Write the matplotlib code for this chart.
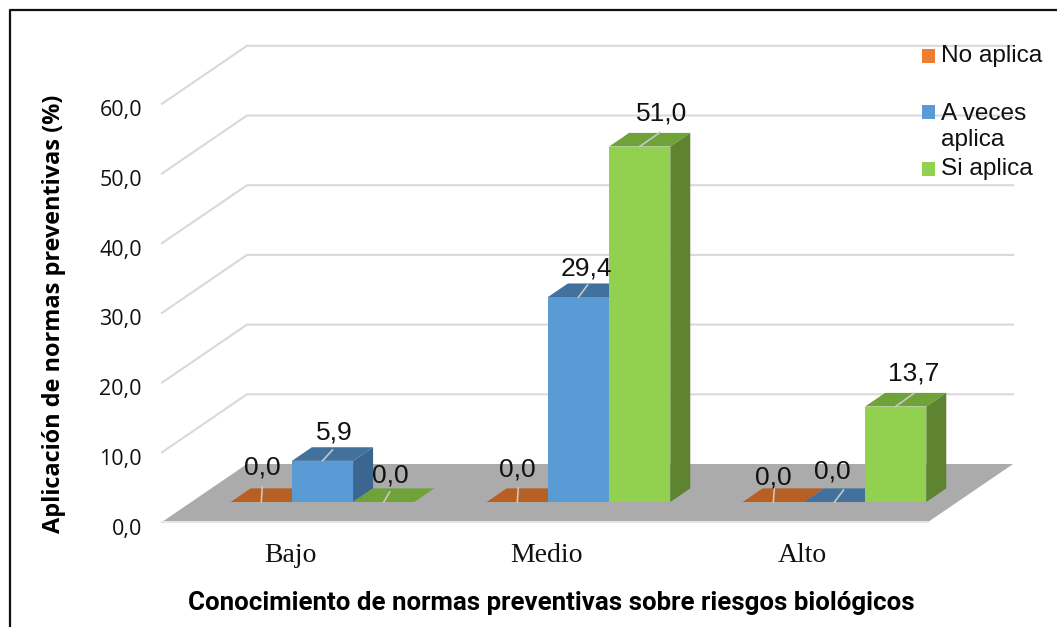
import matplotlib
matplotlib.use("Agg")
import matplotlib.pyplot as plt
from matplotlib.patches import Polygon, Rectangle

categories = ["Bajo", "Medio", "Alto"]
series_names = ["No aplica", "A veces\naplica", "Si aplica"]
no_aplica = [0.0, 0.0, 0.0]
a_veces = [5.9, 29.4, 0.0]
si_aplica = [0.0, 51.0, 13.7]
y_ticks = [0, 10, 20, 30, 40, 50, 60]

# front, top, side
colors_no = ["#ed7d31", "#b85f23", "#a85520"]
colors_av = ["#5b9bd5", "#41719c", "#3c6690"]
colors_si = ["#92d050", "#6fa33a", "#5f8431"]

W, H = 1057, 627
PX_X = 256.0     # pixels per category
PX_Y = 6.97      # pixels per value unit
X0, Y0 = 322.5, 502.0   # pixel of category 0, value 0 on the bar plane

DX = 85 / PX_X   # whole floor depth in data units
DY = 58 / PX_Y
FLOOR_FRONT = -0.345
FLOOR_BACK = 0.655
BAR_D = 0.235
BAR_W = 61.2 / PX_X

fig = plt.figure(figsize=(W / 100, H / 100), dpi=100)
ax = fig.add_axes([0, 0, 1, 1])
ax.set_xlim(-X0 / PX_X, (W - X0) / PX_X)
ax.set_ylim((Y0 - H) / PX_Y, Y0 / PX_Y)
ax.axis("off")


def pr(x, v, d=0.0):
    return (x + d * DX, v + d * DY)


def px(dx, dy):
    return (dx / PX_X, -dy / PX_Y)


x_left, x_right = -0.5125, 2.48  # ends of the floor on the bar plane

# floor
ax.add_patch(Polygon([pr(x_left, 0, FLOOR_FRONT), pr(x_right, 0, FLOOR_FRONT),
                      pr(x_right, 0, FLOOR_BACK), pr(x_left, 0, FLOOR_BACK)],
                     fc="#ababab", ec="none", zorder=1))
ax.plot(*zip(pr(x_left, 0, FLOOR_FRONT), pr(x_right, 0, FLOOR_FRONT)), color="#e6e6e6", lw=1.5, zorder=1.5)

# walls grid
for t in y_ticks[1:]:
    ax.plot(*zip(pr(x_left, t, FLOOR_FRONT), pr(x_left, t, FLOOR_BACK), pr(x_right, t, FLOOR_BACK)),
            color="#d9d9d9", lw=1.5, zorder=0.5)
for t in y_ticks:
    p = pr(x_left, t, FLOOR_FRONT)
    ax.annotate(f"{t:.1f}".replace(".", ","), p, xytext=(-20, -7), textcoords="offset pixels",
                ha="right", va="center", fontsize=15.5, family="Open Sans", color="#111111", zorder=6)


def bar3d(xc, val, cols):
    xa, xb = xc - BAR_W / 2, xc + BAR_W / 2
    ax.add_patch(Polygon([pr(xa, val), pr(xb, val), pr(xb, val, BAR_D), pr(xa, val, BAR_D)],
                         fc=cols[1], ec="none", zorder=3))
    if val > 0:
        ax.add_patch(Polygon([pr(xb, 0), pr(xb, val), pr(xb, val, BAR_D), pr(xb, 0, BAR_D)],
                             fc=cols[2], ec="none", zorder=3))
        ax.add_patch(Rectangle((xa, 0), BAR_W, val, fc=cols[0], ec="none", zorder=3))


all_series = [(no_aplica, colors_no), (a_veces, colors_av), (si_aplica, colors_si)]
for i in range(len(categories)):
    for j, (vals, cols) in enumerate(all_series):
        bar3d(i + (j - 1) * BAR_W, vals[i], cols)

# data labels: pixel offsets of text and leader from the front top centre of each bar
label_off = [[(1, 34), (12, 28), (7, 27)],
             [(0, 33), (8, 29), (22, 33)],
             [(0, 25), (-2, 30), (18, 33)]]
leader_off = [[(1, -15), (10, -11), (6, -10)],
              [(1, -14), (9, -12), (20, -14)],
              [(1, -13), (9, -12), (18, -13)]]
for i in range(len(categories)):
    for j, (vals, cols) in enumerate(all_series):
        xc = i + (j - 1) * BAR_W
        v = vals[i]
        lx, ly = px(*leader_off[i][j])
        ax.plot([xc, xc + lx], [v, v + ly], color="#c8c8c8", lw=1.2, zorder=4)
        ax.annotate(f"{v:.1f}".replace(".", ","), (xc, v), xytext=label_off[i][j],
                    textcoords="offset pixels", ha="center", va="center",
                    fontsize=19, family="Liberation Sans", color="#111111", zorder=5)

# category labels
for i, c in enumerate(categories):
    ax.annotate(c, (i, 0), xytext=(-32, -54), textcoords="offset pixels",
                ha="center", va="center", fontsize=20, family="Liberation Serif", color="#111111")

# legend
tr = ax.transAxes
leg_y = [56, 112, 169]
leg_text_y = [56, 127, 169]
for name, yy, ty, cols in zip(series_names, leg_y, leg_text_y, [colors_no, colors_av, colors_si]):
    ax.add_patch(Rectangle((922 / W, 1 - (yy + 6.5) / H), 13 / W, 13 / H, transform=tr,
                           fc=cols[0], ec="none", zorder=6))
    ax.text(941 / W, 1 - ty / H, name, transform=tr, ha="left", va="center", fontsize=17.6,
            family="Liberation Sans", color="#111111", linespacing=1.2, zorder=6)

# axis titles
ax.text(54 / W, 1 - 314 / H, "Aplicación de normas preventivas (%)", transform=tr, rotation=90,
        ha="center", va="center", fontsize=16.9, fontweight="bold", family="Open Sans", color="black")
ax.text(551 / W, 1 - 603 / H, "Conocimiento de normas preventivas sobre riesgos biológicos", transform=tr,
        ha="center", va="center", fontsize=18.6, fontweight="bold", family="Roboto", color="black")

# outer frame
ax.plot([10 / W, 10 / W, 1], [0, 1 - 9.5 / H, 1 - 9.5 / H], transform=tr, color="#111111", lw=1.6, zorder=7)

fig.savefig("out.png", dpi=100)
